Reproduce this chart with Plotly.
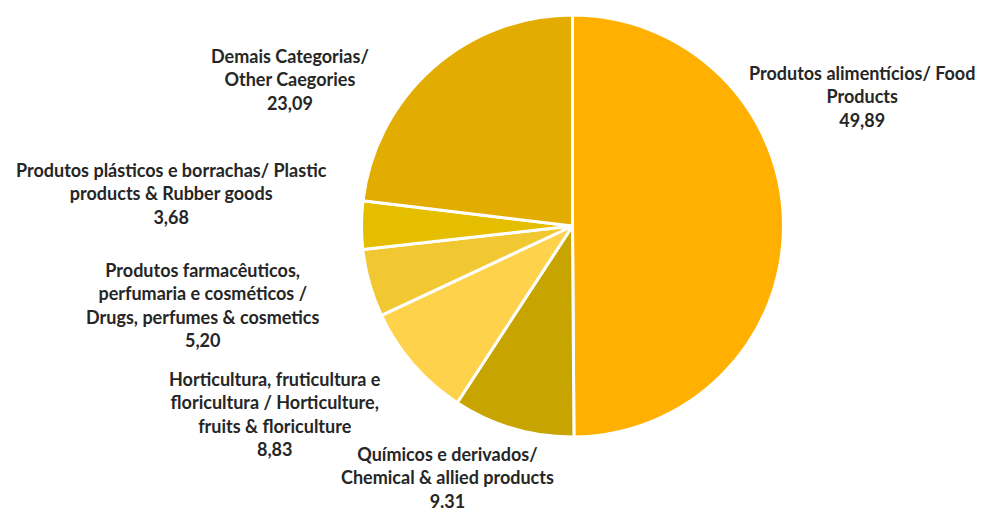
import plotly.graph_objects as go

categories = [
    "Produtos alimentícios/ Food<br>Products",
    "Químicos e derivados/<br>Chemical & allied products",
    "Horticultura, fruticultura e<br>floricultura / Horticulture,<br>fruits & floriculture",
    "Produtos farmacêuticos,<br>perfumaria e cosméticos /<br>Drugs, perfumes & cosmetics",
    "Produtos plásticos e borrachas/ Plastic<br>products & Rubber goods",
    "Demais Categorias/<br>Other Caegories",
]
values = [49.89, 9.31, 8.83, 5.20, 3.68, 23.09]
value_labels = ["49,89", "9.31", "8,83", "5,20", "3,68", "23,09"]
colors = ["#FFB000", "#C8A400", "#FFD24C", "#F2C832", "#E6BE00", "#E2AD00"]

# page offset (body margin) and label anchor positions in screen pixels
W, H = 989, 510
OFF = 8
label_pos = [(862, 96), (447, 477), (275, 414), (203, 305), (171, 193), (290, 80)]

cx, cy, r = 572.5 - OFF, 226 - OFF, 211
fig = go.Figure(go.Pie(
    labels=[c.replace("<br>", " ") for c in categories],
    values=values,
    sort=False,
    direction="clockwise",
    rotation=0,
    textinfo="none",
    hoverinfo="label+value",
    marker=dict(colors=colors, line=dict(color="white", width=3)),
    domain=dict(x=[(cx - r) / W, (cx + r) / W],
                y=[(H - cy - r) / H, (H - cy + r) / H]),
    showlegend=False,
))

for cat, vl, (px, py) in zip(categories, value_labels, label_pos):
    fig.add_annotation(
        x=(px - OFF) / W, y=1 - (py - OFF) / H, xref="paper", yref="paper",
        text=f"<b>{cat}<br>{vl}</b>", showarrow=False,
        xanchor="center", yanchor="middle", align="center",
        font=dict(family="Lato", size=18, color="#262626"),
    )

fig.update_layout(
    width=W, height=H,
    margin=dict(l=0, r=0, t=0, b=0),
    paper_bgcolor="white", plot_bgcolor="white",
)

fig.write_html("out.html")
